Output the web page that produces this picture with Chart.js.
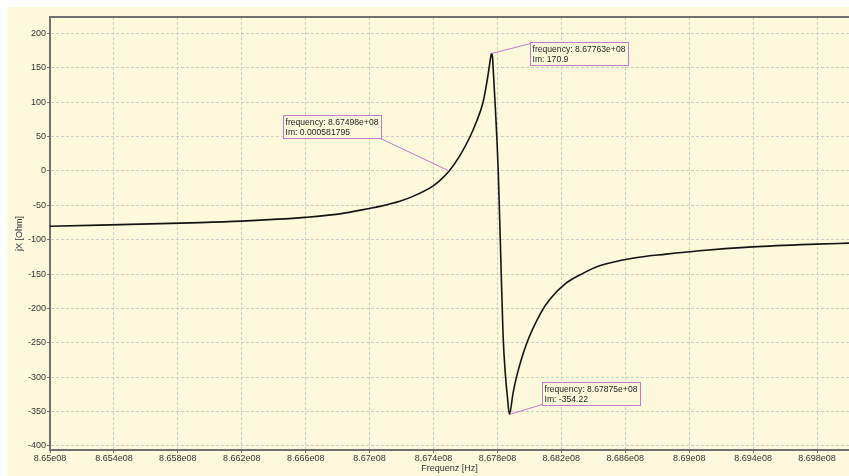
<!DOCTYPE html>
<html>
<head>
<meta charset="utf-8">
<script src="https://cdn.jsdelivr.net/npm/chart.js@4.4.0/dist/chart.umd.min.js"></script>
<style>
    html, body { margin: 0; padding: 0; background: #fff; }
    #wrap { position: absolute; left: 7px; top: 7px; width: 842px; height: 469px; background: #fcf9dd; }
</style>
</head>
<body>
<div id="wrap"><canvas id="chart"></canvas></div>
<script>
const frequencies = [
    8.65000e8, 8.65939e8, 8.66196e8, 8.66596e8, 8.66814e8, 8.67000e8, 8.67064e8, 8.67189e8,
    8.67271e8, 8.67396e8, 8.67439e8, 8.67498e8, 8.67564e8, 8.67627e8, 8.67671e8, 8.67710e8,
    8.67738e8, 8.67752e8, 8.67758e8, 8.67763e8, 8.67769e8, 8.67775e8, 8.67785e8, 8.67796e8,
    8.67805e8, 8.67814e8, 8.67822e8, 8.67835e8, 8.67850e8, 8.67862e8, 8.67875e8, 8.678975e8,
    8.67919e8, 8.67981e8, 8.68075e8, 8.68127e8, 8.68231e8, 8.68335e8, 8.68439e8, 8.68646e8,
    8.68856e8, 8.69064e8, 8.69396e8, 8.69796e8, 8.70000e8
];
const reactance = [
    -80.5, -75.2, -73, -67.5, -62.5, -54.5, -51.5, -44,
    -37, -22, -14, 0.000581795, 22, 49, 73, 100,
    135, 157, 166, 170.9, 166, 142, 100, 50,
    0, -70, -135, -238, -297, -328, -354.22, -323.6,
    -300, -252, -205, -187, -163, -149, -138, -127,
    -121, -116, -110.5, -106.5, -105
];

const xTickValues = [8.65e8, 8.654e8, 8.658e8, 8.662e8, 8.666e8, 8.67e8, 8.674e8, 8.678e8, 8.682e8, 8.686e8, 8.69e8, 8.694e8, 8.698e8];
const xTickLabels = ['8.65e08', '8.654e08', '8.658e08', '8.662e08', '8.666e08', '8.67e08', '8.674e08', '8.678e08', '8.682e08', '8.686e08', '8.69e08', '8.694e08', '8.698e08'];
const yTickValues = [-400, -350, -300, -250, -200, -150, -100, -50, 0, 50, 100, 150, 200];

// marker readouts
const markerFrequencies = [8.67498e8, 8.67763e8, 8.67875e8];
const markerValues = [0.000581795, 170.9, -354.22];

const axisColor = '#707070';
const gridColor = '#cdcdc2';
const labelFont = { family: '"Liberation Sans", Arial, sans-serif', size: 9 };

const expLabel = (f) => (f / 1e8).toFixed(5) + 'e+08';

// --- Callout boxes + top frame ---
const calloutPlugin = {
    id: 'callouts',
    afterDatasetsDraw(chart) {
        const { ctx, chartArea, scales: { x, y } } = chart;
        ctx.save();

        ctx.strokeStyle = axisColor;
        ctx.lineWidth = 2;
        ctx.beginPath();
        ctx.moveTo(chartArea.left, chartArea.top);
        ctx.lineTo(chartArea.right, chartArea.top);
        ctx.stroke();

        // box placement relative to the marked point
        const place = [
            { dx: -68, dy: -56, anchor: 'br' },
            { dx: 38, dy: -11, anchor: 'tl' },
            { dx: 33, dy: -32, anchor: 'bl' },
        ];

        ctx.font = '8.6px "Liberation Sans", Arial, sans-serif';
        ctx.textBaseline = 'middle';
        markerFrequencies.forEach((f, i) => {
            const px = x.getPixelForValue(f);
            const py = y.getPixelForValue(markerValues[i]);
            const lines = ['frequency: ' + expLabel(f), 'Im: ' + markerValues[i]];
            const w = Math.round(Math.max(...lines.map(t => ctx.measureText(t).width)) + 5);
            const h = 23;
            const p = place[i];
            const left = Math.round(p.anchor === 'br' ? px + p.dx - w : px + p.dx) + 0.5;
            const top = Math.round(py + p.dy) + 0.5;

            let ax = left, ay = top + 1;
            if (p.anchor === 'br') { ax = left + w - 1; ay = top + h; }
            if (p.anchor === 'bl') { ax = left; ay = top + h - 1; }

            ctx.strokeStyle = '#c47ac4';
            ctx.lineWidth = 1;
            ctx.beginPath();
            ctx.moveTo(ax, ay);
            ctx.lineTo(px, py);
            ctx.stroke();

            ctx.fillStyle = '#fcf9dd';
            ctx.fillRect(left, top, w, h);
            ctx.strokeRect(left, top, w, h);

            ctx.fillStyle = '#222';
            ctx.fillText(lines[0], left + 2, top + 7.5);
            ctx.fillText(lines[1], left + 2, top + 17);
        });
        ctx.restore();
    }
};

const ctx = document.getElementById('chart').getContext('2d');
new Chart(ctx, {
    type: 'line',
    data: {
        datasets: [{
            data: frequencies.map((f, i) => ({ x: f, y: reactance[i] })),
            borderColor: '#141414',
            borderWidth: 1.6,
            pointRadius: 0,
            fill: false,
            cubicInterpolationMode: 'monotone',
        }]
    },
    options: {
        responsive: true,
        maintainAspectRatio: false,
        animation: false,
        layout: { padding: { top: 10, right: 0, left: 0, bottom: 0 } },
        plugins: { legend: { display: false }, tooltip: { enabled: false } },
        scales: {
            x: {
                type: 'linear',
                min: 8.65e8,
                max: 8.7e8,
                afterBuildTicks: (scale) => { scale.ticks = xTickValues.map(v => ({ value: v })); },
                afterFit: (scale) => { scale.height = 26; },
                ticks: {
                    autoSkip: false,
                    maxRotation: 0,
                    padding: 0,
                    color: '#333',
                    font: labelFont,
                    callback: (value, index) => xTickLabels[index],
                },
                grid: { color: gridColor, lineWidth: 1, tickLength: 3, tickColor: axisColor, tickBorderDash: [] },
                border: { color: axisColor, width: 2, dash: [3, 2] },
                title: { display: true, text: 'Frequenz [Hz]', color: '#333', font: labelFont, padding: { top: 0, bottom: 2 } },
            },
            y: {
                min: -406,
                max: 224,
                afterBuildTicks: (scale) => { scale.ticks = yTickValues.map(v => ({ value: v })); },
                afterFit: (scale) => { scale.width = 43; },
                ticks: { padding: 1, color: '#333', font: labelFont },
                grid: { color: gridColor, lineWidth: 1, tickLength: 3, tickColor: axisColor, tickBorderDash: [] },
                border: { color: axisColor, width: 2, dash: [3, 2] },
                title: { display: true, text: 'jX [Ohm]', color: '#333', font: labelFont, padding: { top: 7, bottom: 0 } },
            }
        }
    },
    plugins: [calloutPlugin]
});
</script>
</body>
</html>
